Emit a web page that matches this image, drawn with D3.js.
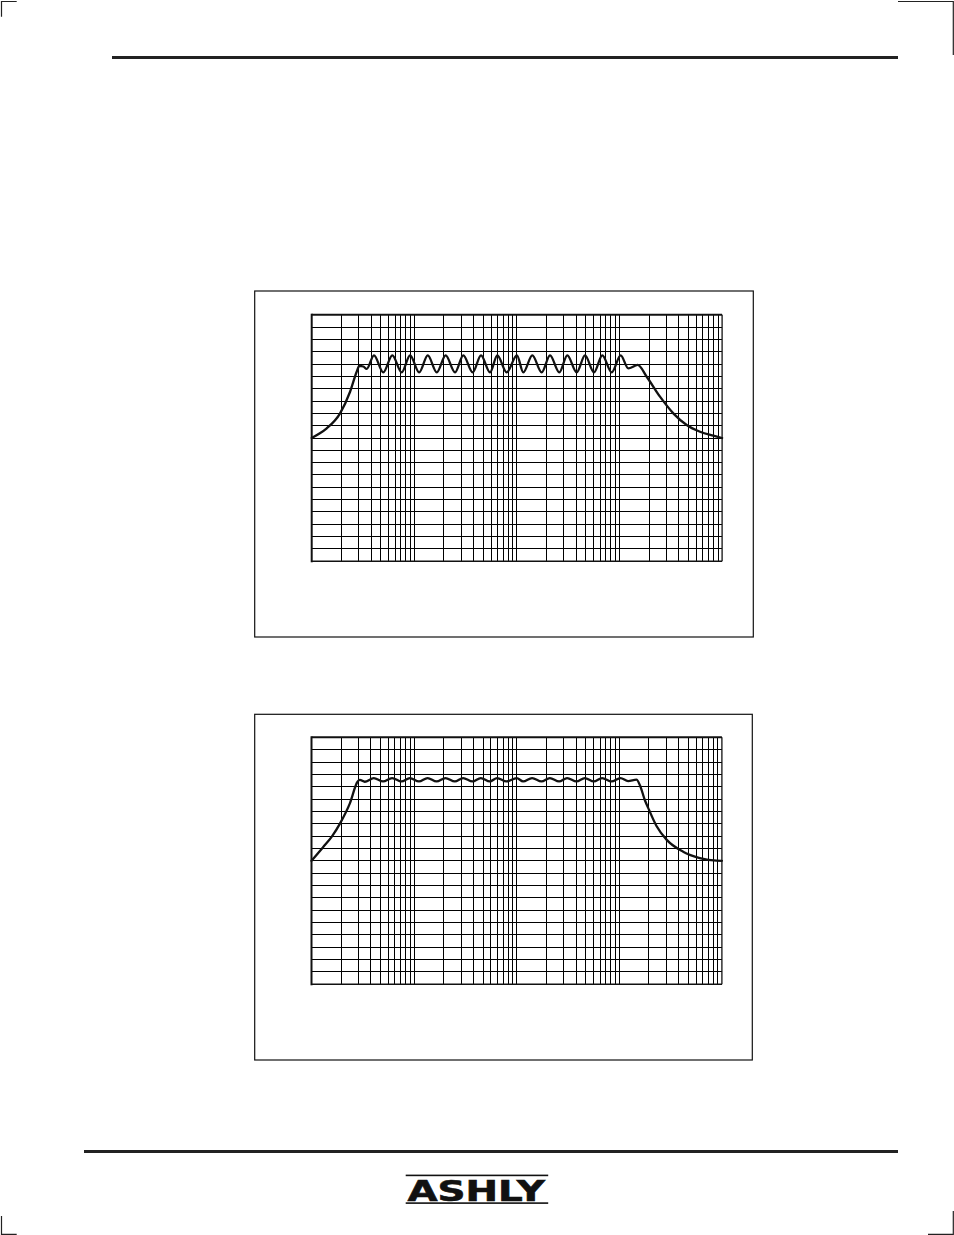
<!DOCTYPE html>
<html>
<head>
<meta charset="utf-8">
<script src="https://cdn.jsdelivr.net/npm/d3@7"></script>
<style>
  html, body { margin: 0; padding: 0; background: #fff; }
  svg { display: block; }
</style>
</head>
<body>
<svg id="page" width="954" height="1235"></svg>
<script>
// ---------------- DATA ----------------
// Log-frequency graph paper: 4 printed decade blocks, 10 Hz .. 100 kHz
const paperDecades = [0, 1, 2, 3];
const gridMantissas = [1, 2, 3, 4, 5, 6, 7, 8, 9, 10];
// horizontal grid levels (dB)
const dbTicks = [-20, -18, -16, -14, -12, -10, -8, -6, -4, -2, 0, 2, 4, 6, 8, 10, 12, 14, 16, 18, 20];

// Upper chart: response with pronounced ripple (Hz, dB)
const topFreq = [10, 12.1, 14.2, 19.4, 24.5, 28.6, 30.4, 33.4, 36.1,
  42.8, 53.2, 65.7, 81.8, 99.5, 112, 137, 169, 208, 259, 314, 391, 475, 586, 695, 865,
  1000, 1161, 1433, 1784, 2167, 2692, 3245, 4042, 4906, 6053, 7346, 9152, 10280,
  12280, 15300, 18870, 25750, 35130, 48030, 65530, 89400, 100000];
const topDb = [0, 0.76, 1.57, 4.0, 7.5, 10.75, 11.7, 11.6, 11.2,
  13.4, 10.65, 13.4, 10.65, 13.4, 10.65, 13.4, 10.65, 13.4, 10.65, 13.4, 10.65, 13.4, 10.65, 13.4, 10.65,
  13.4, 10.65, 13.4, 10.65, 13.4, 10.65, 13.4, 10.65, 13.4, 10.65, 13.4, 10.65, 13.4,
  11.3, 11.85, 9.94, 6.7, 4.0, 2.11, 1.02, 0.37, 0];

// Lower chart: response with small ripple (Hz, dB)
const bottomFreq = [10, 13.1, 16.2, 19.5, 24.5, 29.3, 30.9, 34.7,
  42.8, 53.2, 65.7, 81.8, 99.5, 112, 137, 169, 208, 259, 314, 391, 475, 586, 695, 865,
  1000, 1161, 1433, 1784, 2167, 2692, 3245, 4042, 4906, 6053, 7346, 9152, 10280,
  12280, 14940, 16140, 18140, 20050, 23840, 30110, 44360, 65530, 96800, 100000];
const bottomDb = [0, 2.2, 4.0, 6.07, 9.3, 12.8, 13.1, 12.8,
  13.4, 12.85, 13.4, 12.85, 13.4, 12.85, 13.4, 12.85, 13.4, 12.85, 13.4, 12.85, 13.4, 12.85, 13.4, 12.85,
  13.4, 12.85, 13.4, 12.85, 13.4, 12.85, 13.4, 12.85, 13.4, 12.85, 13.4, 12.85, 13.4,
  12.9, 13.13, 12.28, 9.85, 8.23, 5.64, 3.43, 1.47, 0.45, 0.02, 0];

const logoText = "ASHLY";

// ---------------- DRAWING ----------------
const svg = d3.select("#page");
const ink = "#111";
const baseFreq = 10;

// paper x-scale: decade blocks (linear) + mantissa within a block (log)
function makePaperX(x0, period, blockWidth) {
  const dec = d3.scaleLinear().domain([0, 4]).range([x0, x0 + 4 * period]);
  const mant = d3.scaleLog().domain([1, 10]).range([0, blockWidth]);
  const fn = function (freq) {
    let d = Math.floor(Math.log10(freq / baseFreq) + 1e-9);
    d = Math.max(0, Math.min(4, d));
    const m = freq / (baseFreq * Math.pow(10, d));
    return dec(d) + mant(m);
  };
  fn.dec = dec; fn.mant = mant;
  return fn;
}

function drawChart(cfg) {
  const g = svg.append("g");
  // outer frame
  g.append("rect")
    .attr("x", cfg.box[0]).attr("y", cfg.box[1])
    .attr("width", cfg.box[2] - cfg.box[0]).attr("height", cfg.box[3] - cfg.box[1])
    .attr("fill", "none").attr("stroke", ink).attr("stroke-width", 1.2);

  const x = makePaperX(cfg.left, 102.6, 98.6);
  const right = x.dec(4);
  const y = d3.scaleLinear().domain([-20, 20]).range([cfg.bottom, cfg.top]);

  const grid = g.append("g").attr("stroke", "#000").attr("stroke-width", 1)
    .attr("shape-rendering", "crispEdges");
  // vertical lines
  const vx = [];
  paperDecades.forEach(d => gridMantissas.forEach(m => vx.push(x.dec(d) + x.mant(m))));
  grid.selectAll("line.v").data(vx).join("line").attr("class", "v")
    .attr("x1", d => d).attr("x2", d => d)
    .attr("y1", cfg.top).attr("y2", cfg.bottom);
  // horizontal lines
  grid.selectAll("line.h").data(dbTicks).join("line").attr("class", "h")
    .attr("x1", cfg.left).attr("x2", right)
    .attr("y1", d => y(d)).attr("y2", d => y(d));

  // frame of plot
  const fr = g.append("g").attr("stroke", ink);
  fr.append("line").attr("x1", cfg.left).attr("x2", cfg.left).attr("y1", cfg.top - 1).attr("y2", cfg.bottom + 1).attr("stroke-width", 2);
  fr.append("line").attr("x1", cfg.left).attr("x2", right).attr("y1", cfg.top).attr("y2", cfg.top).attr("stroke-width", 2);
  fr.append("line").attr("x1", right).attr("x2", right).attr("y1", cfg.top).attr("y2", cfg.bottom).attr("stroke-width", 1.3);
  fr.append("line").attr("x1", cfg.left).attr("x2", right).attr("y1", cfg.bottom).attr("y2", cfg.bottom).attr("stroke-width", 1.5);

  // response curve
  const pts = cfg.freq.map((f, i) => [f, cfg.db[i]]);
  const line = d3.line().x(p => x(p[0])).y(p => y(p[1])).curve(d3.curveMonotoneX);
  g.append("path").datum(pts).attr("d", line)
    .attr("fill", "none").attr("stroke", ink).attr("stroke-width", 2.3)
    .attr("stroke-linejoin", "round").attr("stroke-linecap", "round");
}

drawChart({ box: [254.7, 291, 753.3, 637], left: 311.7, top: 314.7, bottom: 561.3, freq: topFreq, db: topDb });
drawChart({ box: [254.7, 714.3, 752.3, 1060], left: 311.5, top: 737.3, bottom: 984.3, freq: bottomFreq, db: bottomDb });

// ---------------- PAGE FURNITURE ----------------
const marks = svg.append("g").attr("fill", "none").attr("stroke", "#222").attr("stroke-width", 1.2);
marks.append("path").attr("d", "M1.5,16.7V1.5H16.7");
marks.append("path").attr("d", "M898,1.5H953.3V55");
marks.append("path").attr("d", "M1.5,1216V1234.3H16.7");
marks.append("path").attr("d", "M928,1234.3H953.3V1211");

svg.append("rect").attr("x", 112).attr("y", 56).attr("width", 786).attr("height", 3).attr("fill", "#222");
svg.append("rect").attr("x", 84).attr("y", 1150).attr("width", 814).attr("height", 3).attr("fill", "#222");

// logo
const logo = svg.append("g");
logo.append("rect").attr("x", 405.7).attr("y", 1174.6).attr("width", 142.5).attr("height", 1.6).attr("fill", "#111");
logo.append("rect").attr("x", 405.7).attr("y", 1202.3).attr("width", 142.5).attr("height", 1.6).attr("fill", "#111");
logo.append("text").attr("x", 407.5).attr("y", 1200.6)
  .attr("font-family", "'DejaVu Sans', 'Liberation Sans', sans-serif").attr("font-weight", "bold")
  .attr("font-size", 27.5).attr("textLength", 137.5).attr("lengthAdjust", "spacingAndGlyphs")
  .attr("fill", "#111").attr("stroke", "#111").attr("stroke-width", 0.6)
  .text(logoText);
</script>
</body>
</html>
